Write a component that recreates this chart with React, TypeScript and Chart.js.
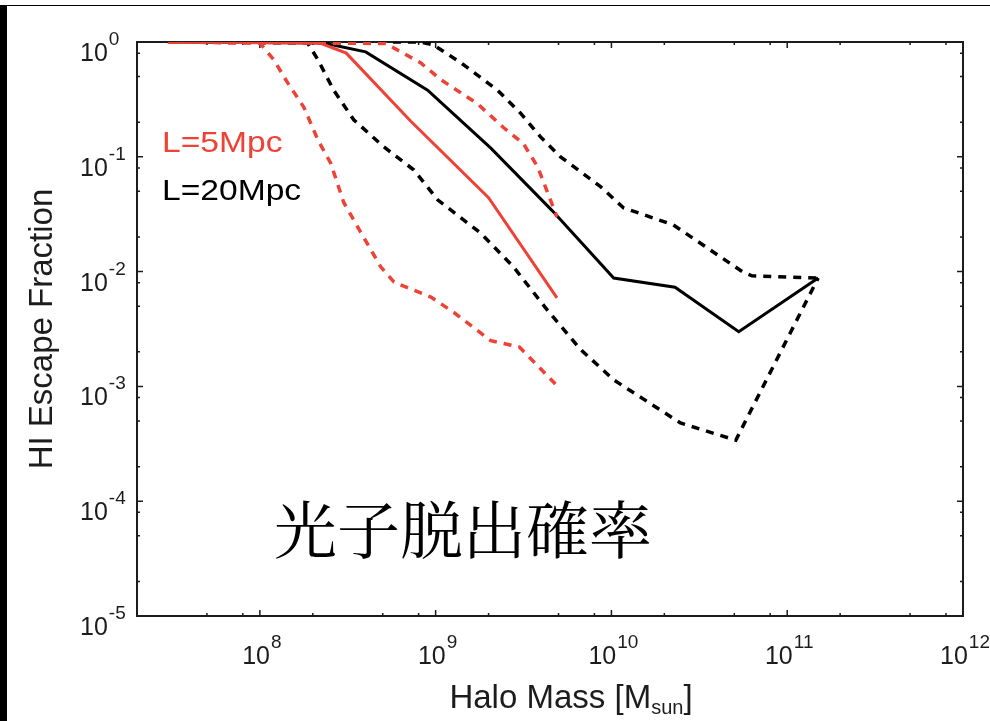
import React, { useEffect, useRef } from 'react';
import { Chart, registerables } from 'chart.js';

Chart.register(...registerables);

// ---------------- data ----------------
// L=5Mpc, median (red solid)
const red5SolidX = [3.0e7, 2.2e8, 3.1e8, 7.2e8, 2.0e9, 4.9e9];
const red5SolidY = [1, 0.98, 0.8, 0.205, 0.044, 0.0059];
// L=5Mpc, upper envelope (red dashed)
const red5UpperX = [3.0e7, 5.2e8, 8.2e8, 1.07e9, 1.73e9, 2.43e9, 3.16e9, 3.8e9, 4.9e9];
const red5UpperY = [1, 0.97, 0.66, 0.47, 0.29, 0.18, 0.13, 0.082, 0.03];
// L=5Mpc, lower envelope (red dashed)
const red5LowerX = [3.0e7, 1.0e8, 1.2e8, 1.44e8, 1.78e8, 2.14e8, 2.53e8, 3.0e8, 3.75e8, 4.87e8, 5.8e8, 9.4e8, 1.27e9, 2.06e9, 3.0e9, 4.8e9];
const red5LowerY = [1, 0.98, 0.7, 0.44, 0.27, 0.14, 0.088, 0.04, 0.022, 0.011, 0.0081, 0.006, 0.0044, 0.0025, 0.0022, 0.00105];
// L=20Mpc, median (black solid)
const blk20SolidX = [3.0e7, 2.3e8, 4.0e8, 9.0e8, 2.06e9, 4.6e9, 1.03e10, 2.3e10, 5.3e10, 1.5e11];
const blk20SolidY = [1, 0.98, 0.82, 0.38, 0.119, 0.034, 0.0088, 0.0073, 0.003, 0.0088];
// L=20Mpc, upper envelope (black dashed)
const blk20UpperX = [3.0e7, 8.2e8, 9.75e8, 1.39e9, 2.25e9, 3.04e9, 3.95e9, 5.13e9, 8.67e9, 1.17e10, 2.25e10, 5.6e10, 6.3e10, 1.5e11];
const blk20UpperY = [1, 1, 0.94, 0.66, 0.38, 0.24, 0.149, 0.1, 0.055, 0.036, 0.0255, 0.0099, 0.0092, 0.0088];
// L=20Mpc, lower envelope (black dashed)
const blk20LowerX = [3.0e7, 1.87e8, 2.14e8, 2.63e8, 3.42e8, 5.07e8, 7.5e8, 1.03e9, 1.8e9, 2.77e9, 4.33e9, 6.67e9, 1.03e10, 2.47e10, 5.1e10, 1.5e11];
const blk20LowerY = [1, 0.98, 0.7, 0.38, 0.21, 0.122, 0.077, 0.042, 0.0217, 0.011, 0.0046, 0.0021, 0.00114, 0.00048, 0.00034, 0.0088];

// axes
const xMin = 2e7;
const xMax = 1e12;
const yMin = 1e-5;
const yMax = 1;
const xMajorTicks = [1e8, 1e9, 1e10, 1e11, 1e12];
const xMajorExp = ['8', '9', '10', '11', '12'];
const yMajorTicks = [1, 1e-1, 1e-2, 1e-3, 1e-4, 1e-5];
const yMajorExp = ['0', '-1', '-2', '-3', '-4', '-5'];
const minorMultipliers = [2, 5, 8];
const xDecades = [1e7, 1e8, 1e9, 1e10, 1e11];
const yDecades = [1e-5, 1e-4, 1e-3, 1e-2, 1e-1];

// texts
const xTitleMain = 'Halo Mass [M';
const xTitleSub = 'sun';
const xTitleEnd = ']';
const yTitle = 'HI Escape Fraction';
const legendLabels = ['L=5Mpc', 'L=20Mpc'];
const annotation = '光子脱出確率';

const RED = '#ee4237';
const BLACK = '#000000';
const AXIS = '#1c1c1c';
const SANS = '"Liberation Sans", Arial, Helvetica, sans-serif';

const pts = (xs: number[], ys: number[]) => xs.map((x, i) => ({ x, y: ys[i] }));

const decorPlugin = {
  id: 'decor',
  beforeDatasetsDraw(chart: any) {
    const ctx = chart.ctx as CanvasRenderingContext2D;
    const { left, right, top, bottom } = chart.chartArea;
    const xs = chart.scales.x;
    const ys = chart.scales.y;
    ctx.save();
    ctx.strokeStyle = AXIS;
    ctx.lineWidth = 2;
    ctx.strokeRect(left, top, right - left, bottom - top);
    ctx.lineWidth = 1.5;
    const major = 6;
    const minor = 3;
    const vt = (px: number, len: number) => {
      ctx.beginPath();
      ctx.moveTo(px, bottom);
      ctx.lineTo(px, bottom - len);
      ctx.moveTo(px, top);
      ctx.lineTo(px, top + len);
      ctx.stroke();
    };
    const ht = (py: number, len: number) => {
      ctx.beginPath();
      ctx.moveTo(left, py);
      ctx.lineTo(left + len, py);
      ctx.moveTo(right, py);
      ctx.lineTo(right - len, py);
      ctx.stroke();
    };
    xMajorTicks.forEach((v) => vt(xs.getPixelForValue(v), major));
    xDecades.forEach((d) =>
      minorMultipliers.forEach((m) => {
        const v = d * m;
        if (v > xMin && v < xMax) vt(xs.getPixelForValue(v), minor);
      })
    );
    yMajorTicks.forEach((v) => ht(ys.getPixelForValue(v), major));
    yDecades.forEach((d) =>
      minorMultipliers.forEach((m) => {
        const v = d * m;
        if (v > yMin && v < yMax) ht(ys.getPixelForValue(v), minor);
      })
    );
    ctx.restore();
  },
  afterDraw(chart: any) {
    const ctx = chart.ctx as CanvasRenderingContext2D;
    const { left, right, top, bottom } = chart.chartArea;
    const xs = chart.scales.x;
    const ys = chart.scales.y;
    ctx.save();
    ctx.fillStyle = AXIS;
    ctx.textBaseline = 'alphabetic';
    ctx.textAlign = 'left';
    const baseFont = `25px ${SANS}`;
    const expFont = `19px ${SANS}`;

    // x tick labels
    xMajorTicks.forEach((v, i) => {
      const px = xs.getPixelForValue(v);
      ctx.font = baseFont;
      const w1 = ctx.measureText('10').width;
      ctx.font = expFont;
      const w2 = ctx.measureText(xMajorExp[i]).width;
      const start = px + 2 - (w1 + w2 + 1) / 2;
      ctx.font = baseFont;
      ctx.fillText('10', start, bottom + 48);
      ctx.font = expFont;
      ctx.fillText(xMajorExp[i], start + w1 + 1, bottom + 32);
    });

    // y tick labels
    yMajorTicks.forEach((v, i) => {
      const py = ys.getPixelForValue(v);
      ctx.font = baseFont;
      const w1 = ctx.measureText('10').width;
      ctx.fillText('10', 80, py + 19);
      ctx.font = expFont;
      ctx.fillText(yMajorExp[i], 80 + w1 + 1, py + 3);
    });

    // x title with subscript
    const tFont = `33px ${SANS}`;
    const sFont = `20px ${SANS}`;
    ctx.font = tFont;
    const wa = ctx.measureText(xTitleMain).width;
    const wc = ctx.measureText(xTitleEnd).width;
    ctx.font = sFont;
    const wb = ctx.measureText(xTitleSub).width;
    const tw = wa + wb + wc;
    const tx = (left + right) / 2 + 21 - tw / 2;
    ctx.font = tFont;
    ctx.fillText(xTitleMain, tx, 708);
    ctx.font = sFont;
    ctx.fillText(xTitleSub, tx + wa, 714);
    ctx.font = tFont;
    ctx.fillText(xTitleEnd, tx + wa + wb, 708);

    // y title rotated
    ctx.save();
    ctx.translate(52, (top + bottom) / 2);
    ctx.rotate(-Math.PI / 2);
    ctx.textAlign = 'center';
    ctx.font = tFont;
    ctx.fillText(yTitle, 0, 0);
    ctx.restore();

    // legend texts inside the plot
    const legendColors = [RED, BLACK];
    const legendBase = [152, 200];
    legendLabels.forEach((t, i) => {
      ctx.save();
      ctx.translate(162, legendBase[i]);
      ctx.scale(1.12, 1);
      ctx.font = `30px ${SANS}`;
      ctx.fillStyle = legendColors[i];
      ctx.fillText(t, 0, 0);
      ctx.restore();
    });

    // Japanese annotation
    ctx.font = `63px "Noto Serif CJK JP", "Noto Sans CJK JP", serif`;
    ctx.fillStyle = '#000';
    ctx.fillText(annotation, 274, 553);
    ctx.restore();
  },
};

export default function App() {
  const canvasRef = useRef<HTMLCanvasElement | null>(null);

  useEffect(() => {
    if (!canvasRef.current) return;
    const dashed = [8, 7];
    const dw = 3.5;
    const chart = new Chart(canvasRef.current, {
      type: 'scatter',
      data: {
        datasets: [
          { label: 'L=5Mpc median', data: pts(red5SolidX, red5SolidY), borderColor: RED, borderWidth: 3, showLine: true },
          { label: 'L=5Mpc upper', data: pts(red5UpperX, red5UpperY), borderColor: RED, borderWidth: dw, borderDash: dashed, showLine: true },
          { label: 'L=5Mpc lower', data: pts(red5LowerX, red5LowerY), borderColor: RED, borderWidth: dw, borderDash: dashed, showLine: true },
          { label: 'L=20Mpc median', data: pts(blk20SolidX, blk20SolidY), borderColor: BLACK, borderWidth: 3, showLine: true },
          { label: 'L=20Mpc upper', data: pts(blk20UpperX, blk20UpperY), borderColor: BLACK, borderWidth: dw, borderDash: dashed, showLine: true },
          { label: 'L=20Mpc lower', data: pts(blk20LowerX, blk20LowerY), borderColor: BLACK, borderWidth: dw, borderDash: dashed, showLine: true },
        ],
      },
      options: {
        animation: false,
        responsive: false,
        maintainAspectRatio: false,
        layout: { padding: { left: 137, top: 42, right: 27, bottom: 105 } },
        elements: { point: { radius: 0, hoverRadius: 0 }, line: { tension: 0, borderJoinStyle: 'miter' } },
        plugins: { legend: { display: false }, tooltip: { enabled: false }, title: { display: false } },
        scales: {
          x: { type: 'logarithmic', min: xMin, max: xMax, display: false },
          y: { type: 'logarithmic', min: yMin, max: yMax, display: false },
        },
      },
      plugins: [decorPlugin],
    } as any);
    return () => chart.destroy();
  }, []);

  return (
    <div style={{ position: 'fixed', left: 0, top: 0, width: 990, height: 721, background: '#fff', overflow: 'hidden' }}>
      <canvas ref={canvasRef} width={990} height={721} style={{ position: 'absolute', left: 0, top: 0, width: 990, height: 721 }} />
      <div style={{ position: 'absolute', left: 0, top: 5, width: 990, height: 1, background: '#000' }} />
      <div style={{ position: 'absolute', left: 0, top: 5, width: 7, height: 716, background: '#000' }} />
    </div>
  );
}
